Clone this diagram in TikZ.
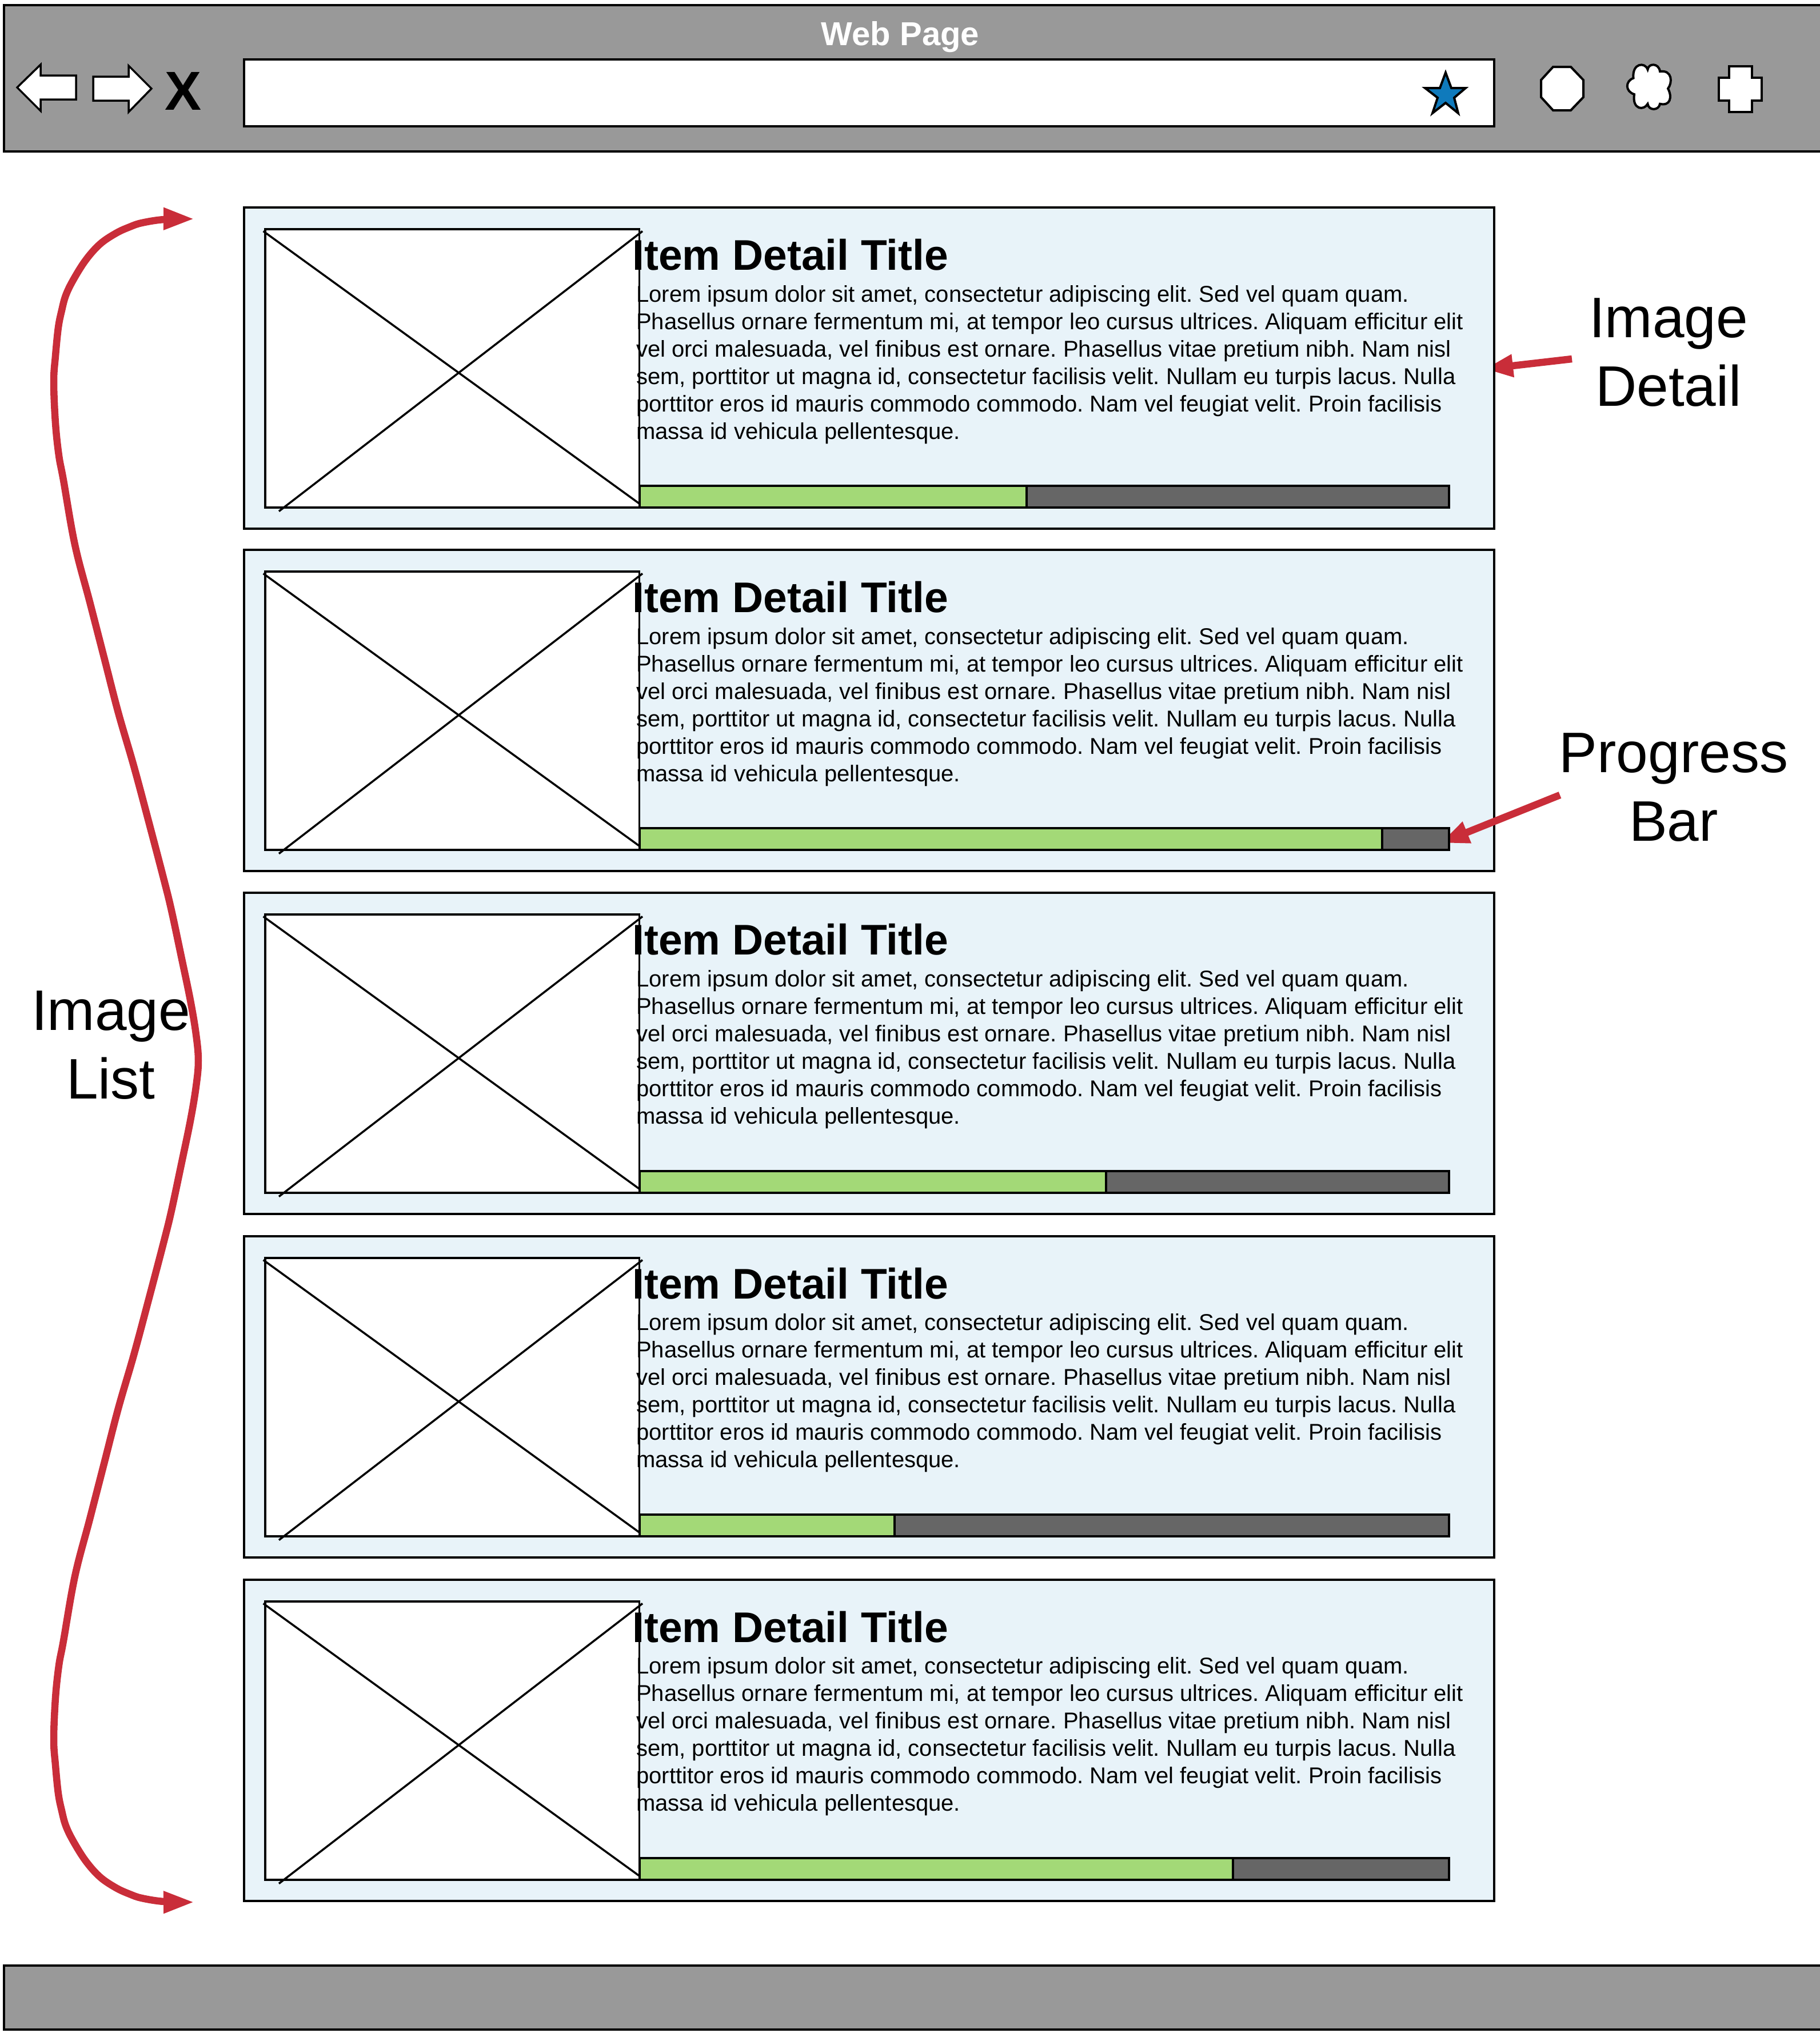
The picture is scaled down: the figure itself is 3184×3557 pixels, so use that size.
\documentclass[tikz,border=0pt]{standalone}
\usepackage{fontspec}
\setmainfont{Liberation Sans}
\usetikzlibrary{arrows.meta}
\definecolor{chrome}{HTML}{999999}
\definecolor{cardblue}{HTML}{E8F3F9}
\definecolor{barfill}{HTML}{A3D977}
\definecolor{bardark}{HTML}{666666}
\definecolor{notered}{HTML}{C92D39}
\definecolor{starblue}{HTML}{0F7ABC}
\newcommand{\loremtext}{Lorem ipsum dolor sit amet, consectetur adipiscing elit. Sed vel quam quam.\\
Phasellus ornare fermentum mi, at tempor leo cursus ultrices. Aliquam efficitur elit\\
vel orci malesuada, vel finibus est ornare. Phasellus vitae pretium nibh. Nam nisl\\
sem, porttitor ut magna id, consectetur facilisis velit. Nullam eu turpis lacus. Nulla\\
porttitor eros id mauris commodo commodo. Nam vel feugiat velit. Proin facilisis\\
massa id vehicula pellentesque.}
\newcommand{\notelabel}[2]{\parbox[t]{600pt}{\centering\fontsize{100}{120}\selectfont #1\\#2}}
\tikzset{
  outline/.style={draw=black,line width=4pt,line join=miter},
  iconshape/.style={outline,fill=white},
  xline/.style={draw=black,line width=3.5pt},
  notearrow/.style={draw=notered,line width=12.5pt,-{Triangle[length=50pt,width=37pt]}},
  bodytext/.style={anchor=base west,inner sep=0pt},
  titletext/.style={anchor=base west,inner sep=0pt,font=\bfseries\fontsize{75}{80}\selectfont},
  notetext/.style={anchor=base,inner sep=0pt}
}
\begin{document}
\begin{tikzpicture}[x=1pt,y=-1pt]
\useasboundingbox (0,0) rectangle (3184,3557);
\clip (0,0) rectangle (3184,3557);
% header
\draw[outline,fill=chrome] (7,9) rectangle (3200,265);
\node[inner sep=0pt,anchor=base,text=white,font=\bfseries\fontsize{58}{60}\selectfont] (pagetitle) at (1575,79) {Web Page};
\draw[iconshape,line width=3.5pt] (30,153) -- (71,113) -- (71,132) -- (133,132) -- (133,174) -- (71,174) -- (71,194) -- cycle;
\draw[iconshape,line width=3.5pt] (265,155) -- (225,115) -- (225,134) -- (163,134) -- (163,176) -- (225,176) -- (225,196) -- cycle;
\node[inner sep=0pt,anchor=base,font=\bfseries\fontsize{96}{96}\selectfont] (closex) at (321,192) {X};
\draw[outline,fill=white] (427,104) rectangle (2614,221);
\draw[outline,fill=starblue] (2529,127) -- (2539,154) -- (2564,154) -- (2544,171) -- (2551,198) -- (2529,180) -- (2506,198) -- (2515,171) -- (2493,154) -- (2519,154) -- cycle;
\draw[iconshape] (2717,117) -- (2748,117) -- (2770,140) -- (2770,170) -- (2748,193) -- (2717,193) -- (2696,170) -- (2696,140) -- cycle;
\draw[iconshape] (2857.5,136.7) .. controls (2855,110) and (2878,108) .. (2882.5,121.7)
  .. controls (2884,110) and (2902,110) .. (2904,125)
  .. controls (2926,122) and (2926,145) .. (2918,155)
  .. controls (2926,170) and (2922,186) .. (2904,181.7)
  .. controls (2902,194) and (2884,194) .. (2882.5,181.7)
  .. controls (2876,194) and (2855,192) .. (2859,165)
  .. controls (2843,160) and (2843,142) .. cycle;
\draw[iconshape] (3025,116) -- (3065,116) -- (3065,136) -- (3082,136) -- (3082,176) -- (3065,176) -- (3065,196) -- (3025,196) -- (3025,176) -- (3007,176) -- (3007,136) -- (3025,136) -- cycle;
% footer
\draw[outline,fill=chrome] (7,3438.5) rectangle (3200,3550.5);
% arrow to the card edge lies under the card
\coordinate (detailfrom) at (2750,628);
\coordinate (detailto) at (2597,645.6);
\draw[notearrow] (detailfrom) -- (detailto);
% cards
\foreach \i/\t in {1/363,2/962,3/1562,4/2163,5/2764}{
  \draw[outline,fill=cardblue] (427,\t) rectangle (2614,\t+561.5);
  \draw[outline,fill=white] (464,\t+37.5) rectangle (1119,\t+524.5);
  \fill[cardblue] (1120,\t+36) rectangle (1127,\t+486);
}
\coordinate (barfrom) at (2729,1391);
\coordinate (barto) at (2520,1475);
\draw[notearrow] (barfrom) -- (barto);
\foreach \i/\t/\g/\s in {1/363/1796/363,2/962/2418/962,3/1561/1935/1562,4/2162.5/1565/2163,5/2763.5/2157/2764}{
  \draw[xline] (460.6,\s+41.5) -- (1119,\s+518.5);
  \draw[xline] (1124,\s+41.5) -- (488,\s+531.5);
  \draw[outline,fill=barfill] (1119,\s+487) rectangle (\g,\s+525);
  \draw[outline,fill=bardark] (\g,\s+487) rectangle (2535,\s+525);
  \node[titletext] (title\i) at (1106,\t+109.5) {Item Detail Title};
  \node[bodytext] (body\i) at (1113,\t+165) {\parbox[t]{1500pt}{\raggedright\frenchspacing\fontsize{40}{48}\selectfont\loremtext}};
}
% labels
\node[notetext] (imagedetail) at (2919,590) {\notelabel{Image}{Detail}};
\node[notetext] (progressbar) at (2928,1351) {\notelabel{Progress}{Bar}};
\node[notetext] (imagelist) at (194,1802) {\notelabel{Image}{List}};
% bracket curve
\draw[draw=notered,line width=12.5pt,{Triangle[length=54pt,width=36pt]}-{Triangle[length=54pt,width=36pt]}]
 plot[smooth,tension=0.6] coordinates {
 (340,383) (287,384) (248,390) (227,397) (203,408) (175,427) (150,455) (128,490) (115,517) (108,543) (102,573) (97,623) (94,668) (97,740) (103,797) (111,840) (131,953) (157,1053) (182,1150) (207,1247) (234,1340) (260,1437) (287,1540) (300,1593) (317,1673) (333,1750) (343,1810) (347,1856)
 (343,1901) (333,1961) (317,2038) (300,2118) (287,2171) (260,2274) (234,2371) (207,2464) (182,2561) (157,2658) (131,2758) (111,2871) (103,2914) (97,2971) (94,3043) (97,3088) (102,3138) (108,3168) (115,3194) (128,3221) (150,3256) (175,3284) (203,3303) (227,3314) (248,3321) (287,3327) (340,3328)};
\end{tikzpicture}
\end{document}
